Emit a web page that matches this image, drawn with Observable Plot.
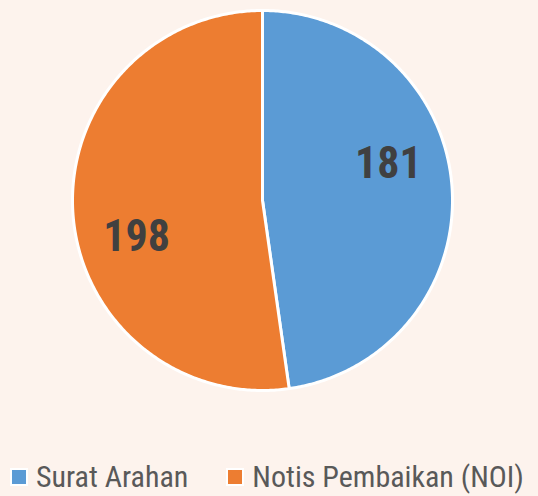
<!DOCTYPE html>
<html>
<head>
<meta charset="utf-8">
<script src="https://cdn.jsdelivr.net/npm/d3@7"></script>
<script src="https://cdn.jsdelivr.net/npm/@observablehq/plot@0.6"></script>
<style>
  html, body { margin: 0; padding: 0; background: #fdf3ed; }
  #wrap { position: relative; width: 538px; height: 496px; overflow: hidden; background: #fdf3ed; }
  #legend { position: absolute; top: 462px; left: 10px; display: flex; align-items: center;
    font-family: "Liberation Sans Narrow", "Arial Narrow", "Roboto Condensed", "Liberation Sans", Arial, sans-serif;
    font-size: 30px; line-height: 30px; color: #595959; white-space: nowrap; }
  .item { display: flex; align-items: center; }
  .sw { width: 14px; height: 14px; border: 2px solid #ffffff; margin-right: 8px; }
</style>
</head>
<body>
<div id="wrap"><div id="chart"></div><div id="legend"></div></div>
<script>
const categories = ["Surat Arahan", "Notis Pembaikan (NOI)"];
const values = [181, 198];
const colors = ["#5b9bd5", "#ed7d31"];

const W = 538, H = 440, CX = 262, CY = 200, R = 190;

const pie = d3.pie().sort(null).startAngle(0).endAngle(2 * Math.PI)(values);

// Build slice outlines from the pie angles (unit circle coordinates)
const rows = [];
pie.forEach((p, i) => {
  rows.push({series: categories[i], x: 0, y: 0});
  const n = Math.max(2, Math.ceil((p.endAngle - p.startAngle) / 0.01));
  for (let k = 0; k <= n; k++) {
    const a = p.startAngle + (p.endAngle - p.startAngle) * k / n;
    rows.push({series: categories[i], x: Math.sin(a), y: Math.cos(a)});
  }
});

// Label placement (Excel "best fit" style, slightly rotated from mid-angle)
const labels = pie.map((p, i) => {
  const a = (p.startAngle + p.endAngle) / 2 - 0.21;
  return {series: categories[i], value: values[i], x: 0.69 * Math.sin(a), y: 0.69 * Math.cos(a)};
});

const chart = Plot.plot({
  width: W, height: H,
  marginTop: 0, marginRight: 0, marginBottom: 0, marginLeft: 0,
  style: {background: "transparent"},
  x: {domain: [-CX / R, (W - CX) / R], axis: null},
  y: {domain: [-(H - CY) / R, CY / R], axis: null},
  color: {domain: categories, range: colors},
  marks: [
    Plot.line(rows, {x: "x", y: "y", z: "series", fill: "series", stroke: "#ffffff", strokeWidth: 3, curve: "linear-closed", strokeLinejoin: "round"}),
    Plot.text(labels, {x: "x", y: "y", text: d => String(d.value), fill: "#404040", fontSize: 44, fontWeight: "bold",
      fontFamily: "'Liberation Sans Narrow', 'Arial Narrow', 'Roboto Condensed', 'Liberation Sans', Arial, sans-serif"})
  ]
});
document.getElementById("chart").appendChild(chart);

const legend = document.getElementById("legend");
categories.forEach((c, i) => {
  const it = document.createElement("div");
  it.className = "item";
  if (i > 0) it.style.marginLeft = "38px";
  const sw = document.createElement("div");
  sw.className = "sw";
  sw.style.background = colors[i];
  const t = document.createElement("span");
  t.textContent = c;
  it.appendChild(sw); it.appendChild(t);
  legend.appendChild(it);
});
</script>
</body>
</html>
